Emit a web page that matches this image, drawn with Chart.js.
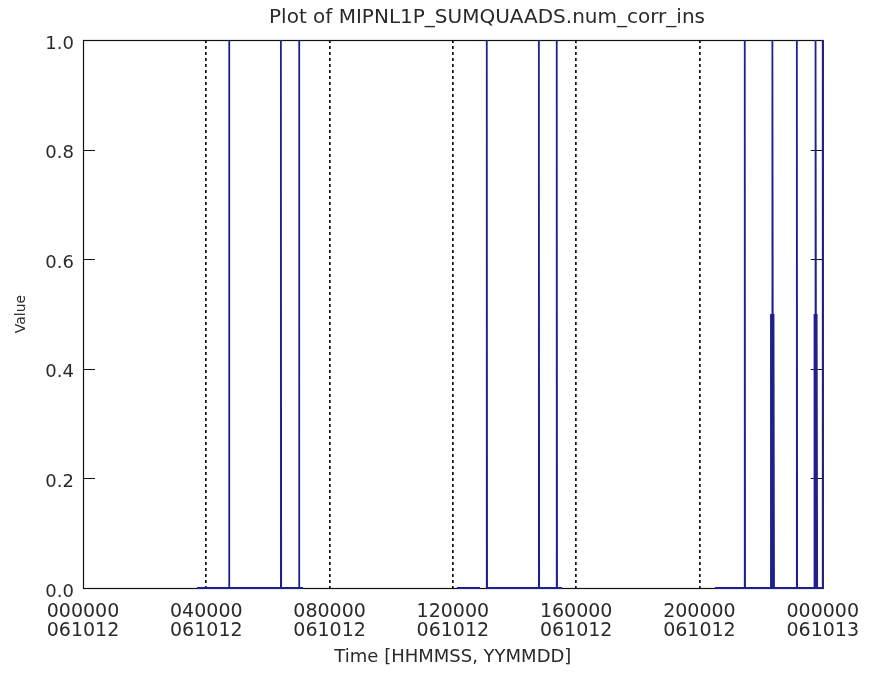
<!DOCTYPE html>
<html>
<head>
<meta charset="utf-8">
<script src="https://cdn.jsdelivr.net/npm/chart.js@4/dist/chart.umd.min.js"></script>
<style>
  html, body { margin: 0; padding: 0; background: #ffffff; }
  #wrap { width: 873px; height: 685px; }
</style>
</head>
<body>
<div id="wrap"><canvas id="c" width="873" height="685"></canvas></div>
<script>
// Time in hours since 000000 061012; null value = data gap
const timeHours = [
  3.70, 4.74, 4.74, 4.75, 6.42, 6.42, 6.43, 7.01, 7.01, 7.02, 7.14, 7.50,
  12.13, 12.88, 12.95,
  13.10, 13.10, 13.11, 14.79, 14.79, 14.80, 15.37, 15.37, 15.38, 15.54, 15.80,
  20.50, 21.47, 21.47, 21.48,
  22.32, 22.32, 22.34, 22.34, 22.36, 22.36, 22.37, 22.37, 22.39, 22.39, 22.41, 22.41, 22.42,
  23.16, 23.16, 23.17,
  23.72, 23.72, 23.74, 23.74, 23.76, 23.76, 23.77, 23.77, 23.79, 23.79, 23.81, 23.81, 23.82,
  24.00, 24.00
];
const values = [
  0, 0, 1, 0, 0, 1, 0, 0, 1, 0, 0, null,
  0, 0, null,
  0, 1, 0, 0, 1, 0, 0, 1, 0, 0, null,
  0, 0, 1, 0,
  0, 0.5, 0, 0.5, 0, 0.5, 0, 1, 0, 0.5, 0, 0.5, 0,
  0, 1, 0,
  0, 0.5, 0, 0.5, 0, 0.5, 0, 1, 0, 0.5, 0, 0.5, 0,
  0, 1
];
const xTickHours = [0, 4, 8, 12, 16, 20, 24];
const xTickTimes = ['000000', '040000', '080000', '120000', '160000', '200000', '000000'];
const xTickDates = ['061012', '061012', '061012', '061012', '061012', '061012', '061013'];
const yTicks = [0.0, 0.2, 0.4, 0.6, 0.8, 1.0];

const points = timeHours.map((t, i) => ({ x: t, y: values[i] }));
const FONT = '"DejaVu Sans", sans-serif';
const TXT = '#2a2a2a';

const framePlugin = {
  id: 'frame',
  afterLayout(chart) {
    const tb = chart.titleBlock;
    if (tb) { tb.left = 151; tb.right = 823; }
  },
  beforeDatasetsDraw(chart) {
    const { ctx, chartArea: a, scales } = chart;
    ctx.save();
    ctx.strokeStyle = '#111';
    ctx.lineWidth = 1.2;
    ctx.strokeRect(a.left + 0.5, a.top + 0.5, a.right - a.left, a.bottom - a.top);
    ctx.beginPath();
    yTicks.forEach(v => {
      if (v <= 0 || v >= 1) return;
      const y = Math.round(scales.y.getPixelForValue(v)) + 0.5;
      ctx.moveTo(a.left, y); ctx.lineTo(a.left + 12, y);
      ctx.moveTo(a.right, y); ctx.lineTo(a.right - 12, y);
    });
    ctx.stroke();
    ctx.restore();
  }
};

new Chart(document.getElementById('c'), {
  type: 'line',
  data: {
    datasets: [{
      label: 'num_corr_ins',
      data: points,
      borderColor: '#1f1f8f',
      borderWidth: 1.8,
      pointRadius: 0,
      tension: 0,
      spanGaps: false,
      clip: 6
    }]
  },
  options: {
    responsive: false,
    animation: false,
    devicePixelRatio: 1,
    layout: { padding: { top: 0, left: 0, right: 50, bottom: 0 } },
    plugins: {
      legend: { display: false },
      tooltip: { enabled: false },
      title: {
        display: true,
        text: 'Plot of MIPNL1P_SUMQUAADS.num_corr_ins',
        color: TXT,
        font: { family: FONT, size: 20, weight: 'normal', lineHeight: 1.2 },
        padding: { top: 6, bottom: 10 }
      }
    },
    scales: {
      x: {
        type: 'linear',
        min: 0, max: 24,
        afterFit(s) { s.height = 97; },
        afterBuildTicks(s) { s.ticks = xTickHours.map(v => ({ value: v })); },
        ticks: {
          autoSkip: false,
          maxRotation: 0,
          padding: 14,
          color: TXT,
          font: { family: FONT, size: 19, lineHeight: 1.02 },
          callback(v) {
            const i = xTickHours.indexOf(v);
            return i < 0 ? '' : [xTickTimes[i], xTickDates[i]];
          }
        },
        grid: {
          drawTicks: false,
          color(ctx) {
            const v = ctx.tick && ctx.tick.value;
            return (v === 0 || v === 24) ? 'rgba(0,0,0,0)' : '#111';
          },
          lineWidth: 1.7
        },
        border: { display: false, dash: [3, 3] },
        title: {
          display: true,
          text: 'Time [HHMMSS, YYMMDD]',
          color: TXT,
          font: { family: FONT, size: 18, lineHeight: 1.2 },
          padding: { top: 0, bottom: 17 }
        }
      },
      y: {
        min: 0, max: 1,
        afterFit(s) { s.width = 83; },
        afterBuildTicks(s) { s.ticks = yTicks.map(v => ({ value: v })); },
        ticks: {
          padding: 9,
          labelOffset: 4,
          color: TXT,
          font: { family: FONT, size: 18 },
          callback(v) { return Number(v).toFixed(1); }
        },
        grid: { display: false, drawTicks: false },
        border: { display: false },
        title: {
          display: true,
          text: 'Value',
          color: TXT,
          font: { family: FONT, size: 14, lineHeight: 1.2 },
          padding: { top: 13, bottom: 0 }
        }
      }
    }
  },
  plugins: [framePlugin]
});
</script>
</body>
</html>
